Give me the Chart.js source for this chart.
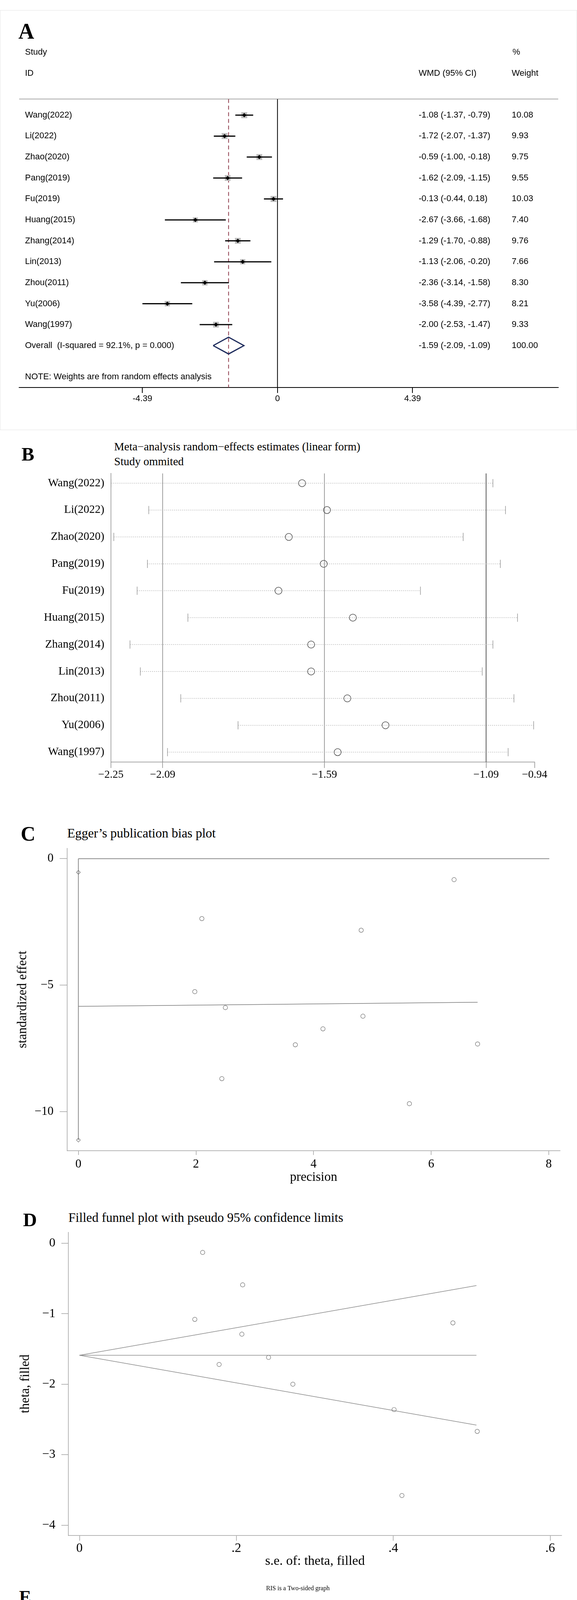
<!DOCTYPE html>
<html>
<head>
<meta charset="utf-8">
<title>Meta-analysis figure</title>
<script src="https://cdn.jsdelivr.net/npm/chart.js@4.4.1/dist/chart.umd.min.js"></script>
<style>
  html, body { margin: 0; padding: 0; background: #fff; }
  body { position: relative; width: 1476px; height: 4777px; overflow: hidden; }
  canvas { position: absolute; left: 0; }
  .txt { position: absolute; line-height: 1; white-space: nowrap; font-family: "Liberation Serif", "Times New Roman", serif; color: #000; }
  .letter { font-weight: bold; }
  #frameA { position: absolute; left: 0; top: 26px; width: 1474px; height: 1073px; border: 1px solid #e4e4e4; }
</style>
</head>
<body>
<div id="frameA"></div>
<div class="txt letter" style="left:47px;top:52px;font-size:56px">A</div>
<div class="txt letter" style="left:55px;top:1138px;font-size:49px">B</div>
<div class="txt" style="left:292px;top:1129px;font-size:29px">Meta−analysis random−effects estimates (linear form)</div>
<div class="txt" style="left:292px;top:1167px;font-size:29px">Study ommited</div>
<div class="txt letter" style="left:53px;top:2109px;font-size:52px">C</div>
<div class="txt" style="left:172px;top:2117px;font-size:33px">Egger’s publication bias plot</div>
<div class="txt letter" style="left:59px;top:3098px;font-size:49px">D</div>
<div class="txt" style="left:175px;top:3101px;font-size:33px">Filled funnel plot with pseudo 95% confidence limits</div>
<div class="txt letter" style="left:49px;top:4066px;font-size:46px">E</div>

<canvas id="forest" width="1476" height="1060" style="top:0px"></canvas>
<canvas id="influence" width="1476" height="920" style="top:1100px"></canvas>
<canvas id="egger" width="1476" height="1060" style="top:2000px"></canvas>
<canvas id="funnel" width="1476" height="980" style="top:3060px"></canvas>
<canvas id="tsa" width="1476" height="737" style="top:4040px"></canvas>

<script>
// ---------- data ----------
// A: forest plot
const studies = ['Wang(2022)', 'Li(2022)', 'Zhao(2020)', 'Pang(2019)', 'Fu(2019)', 'Huang(2015)',
                 'Zhang(2014)', 'Lin(2013)', 'Zhou(2011)', 'Yu(2006)', 'Wang(1997)'];
const wmd     = [-1.08, -1.72, -0.59, -1.62, -0.13, -2.67, -1.29, -1.13, -2.36, -3.58, -2.00];
const wmdLow  = [-1.37, -2.07, -1.00, -2.09, -0.44, -3.66, -1.70, -2.06, -3.14, -4.39, -2.53];
const wmdHigh = [-0.79, -1.37, -0.18, -1.15,  0.18, -1.68, -0.88, -0.20, -1.58, -2.77, -1.47];
const weights = [10.08, 9.93, 9.75, 9.55, 10.03, 7.40, 9.76, 7.66, 8.30, 8.21, 9.33];
const pooled  = [-1.59, -2.09, -1.09];   // estimate, low, high
const pooledWeight = 100.00;
const iSquared = '92.1';
const pHet = '0.000';
const forestTicks = [-4.39, 0, 4.39];

// B: leave-one-out (study omitted)
const omitEst  = [-1.659, -1.582, -1.700, -1.592, -1.732, -1.502, -1.631, -1.631, -1.519, -1.401, -1.549];
const omitLow  = [-2.250, -2.133, -2.241, -2.137, -2.169, -2.012, -2.191, -2.159, -2.034, -1.857, -2.075];
const omitHigh = [-1.069, -1.030, -1.161, -1.046, -1.293, -0.993, -1.069, -1.102, -1.004, -0.943, -1.022];
const omitTicks = [-2.25, -2.09, -1.59, -1.09, -0.94];
const omitRefs = [-2.09, -1.59, -1.09];

// C: Egger plot
const eggerPrecision = [6.39, 2.10, 4.81, 1.98, 2.50, 4.84, 4.16, 3.69, 6.79, 2.44, 5.63];
const eggerEffect    = [-0.83, -2.37, -2.83, -5.26, -5.89, -6.23, -6.73, -7.36, -7.33, -8.70, -9.69];
const eggerFitX = [0, 6.79];
const eggerFitY = [-5.84, -5.68];
const eggerInterceptCI = [-0.54, -11.13];
const eggerZeroEnd = 8.01;
const eggerTicksX = [0, 2, 4, 6, 8];
const eggerTicksY = [0, -5, -10];

// D: filled funnel plot
const funnelSE    = [0.157, 0.208, 0.147, 0.476, 0.207, 0.241, 0.178, 0.272, 0.401, 0.507, 0.411];
const funnelTheta = [-0.13, -0.59, -1.08, -1.13, -1.29, -1.62, -1.72, -2.00, -2.36, -2.67, -3.58];
const funnelLimX  = [0, 0.506];
const funnelUpper = [-1.59, -0.60];
const funnelMid   = [-1.59, -1.59];
const funnelLower = [-1.59, -2.58];
const funnelTicksX = [0, 0.2, 0.4, 0.6];
const funnelTicksY = [0, -1, -2, -3, -4];

// E: trial sequential analysis
const tsaPatients = [0, 62, 92, 154, 222, 449, 483, 611, 688, 771, 833, 928];
const tsaZ        = [0, 7.36, 7.28, 8.00, 7.20, 7.07, 7.66, 5.07, 5.61, 5.71, 6.34, 7.07];
const boundX      = [0, 62, 92, 152];
const boundUpper  = [8.51, 3.36, 2.72, 2.12];
const boundLower  = [-8.52, -3.31, -2.67, -2.08];
const futilX      = [62, 92, 153];
const futilUpper  = [0.25, 1.03, 2.00];
const futilLower  = [-0.22, -0.97, -2.00];
const convZ = 1.96;
const risN = 154;
const risZ = [8.0, -8.0];
const tsaTicksX = [152];
const tsaTicksY = [8, 7, 6, 5, 4, 3, 2, 1, -1, -2, -3, -4, -5, -6, -7, -8];

// ---------- helpers ----------
Chart.defaults.font.family = '"Liberation Serif", "Times New Roman", serif';
Chart.defaults.color = '#000';

const SANS = '"Liberation Sans", Arial, sans-serif';
const fmtMinus = v => (v < 0 ? '\u2212' + Math.abs(v) : String(v));
const fixTicks = vals => scale => { scale.ticks = vals.map(v => ({ value: v })); };
const pts = (xs, ys) => xs.map((x, i) => ({ x: x, y: ys[i] }));

function baseOptions(padding, scales) {
  return {
    responsive: false,
    animation: false,
    devicePixelRatio: 1,
    events: [],
    layout: { padding: padding },
    plugins: { legend: { display: false }, tooltip: { enabled: false } },
    scales: scales
  };
}

// horizontal segments separated by gaps
function segments(lows, highs) {
  const out = [];
  lows.forEach((lo, i) => {
    out.push({ x: lo, y: i }, { x: highs[i], y: i }, { x: NaN, y: NaN });
  });
  return out;
}

// ---------- A: forest plot ----------
const forestY = [-0.77, 13.0];
const overallRow = studies.length;
const noteRow = 12.5;

const forestText = {
  id: 'forestText',
  beforeDatasetsDraw(chart) {
    const { ctx, chartArea: a } = chart;
    ctx.save();
    ctx.strokeStyle = '#a8a8a8';
    ctx.lineWidth = 2;
    ctx.beginPath();
    ctx.moveTo(a.left, a.top);
    ctx.lineTo(a.right, a.top);
    ctx.stroke();
    ctx.restore();
  },
  afterDraw(chart) {
    const { ctx, scales: { y } } = chart;
    const py = v => y.getPixelForValue(v);
    const ci = (e, l, h) => e.toFixed(2) + ' (' + l.toFixed(2) + ', ' + h.toFixed(2) + ')';
    ctx.save();
    ctx.font = '22px ' + SANS;
    ctx.fillStyle = '#000';
    ctx.textBaseline = 'middle';
    ctx.textAlign = 'left';
    ctx.fillText('Study', 64, py(-3));
    ctx.fillText('ID', 64, py(-2));
    ctx.fillText('%', 1311, py(-3));
    ctx.fillText('Weight', 1309, py(-2));
    ctx.fillText('WMD (95% CI)', 1071, py(-2));
    studies.forEach((s, i) => {
      ctx.fillText(s, 64, py(i));
      ctx.fillText(ci(wmd[i], wmdLow[i], wmdHigh[i]), 1071, py(i));
      ctx.fillText(weights[i].toFixed(2), 1309, py(i));
    });
    ctx.fillText('Overall  (I-squared = ' + iSquared + '%, p = ' + pHet + ')', 64, py(overallRow));
    ctx.fillText(ci(pooled[0], pooled[1], pooled[2]), 1071, py(overallRow));
    ctx.fillText(pooledWeight.toFixed(2), 1309, py(overallRow));
    ctx.fillText('NOTE: Weights are from random effects analysis', 64, py(noteRow));
    ctx.restore();
  }
};

new Chart(document.getElementById('forest'), {
  type: 'scatter',
  data: {
    datasets: [
      { // point estimates
        data: pts(wmd, studies.map((s, i) => i)),
        pointStyle: 'rectRot', pointRadius: 5.5,
        backgroundColor: '#000', borderColor: '#000', borderWidth: 0
      },
      { // confidence intervals
        data: segments(wmdLow, wmdHigh),
        showLine: true, spanGaps: false, pointRadius: 0,
        borderColor: '#000', borderWidth: 3
      },
      { // weight boxes
        data: pts(wmd, studies.map((s, i) => i)),
        pointStyle: 'rect',
        pointRadius: c => 10.8 * Math.sqrt(weights[c.dataIndex] / 10.08),
        backgroundColor: '#bdbdbd', borderWidth: 0
      },
      { // overall diamond
        data: [
          { x: pooled[1], y: overallRow }, { x: pooled[0], y: overallRow - 0.4 },
          { x: pooled[2], y: overallRow }, { x: pooled[0], y: overallRow + 0.4 },
          { x: pooled[1], y: overallRow }
        ],
        showLine: true, pointRadius: 0, borderColor: '#1d2b5c', borderWidth: 3,
        borderJoinStyle: 'miter', tension: 0
      },
      { // pooled estimate line
        data: [{ x: pooled[0], y: forestY[0] }, { x: pooled[0], y: forestY[1] }],
        showLine: true, pointRadius: 0, borderColor: '#8e3b4c', borderWidth: 2, borderDash: [10, 7]
      },
      { // no-effect line
        data: [{ x: 0, y: forestY[0] }, { x: 0, y: forestY[1] }],
        showLine: true, pointRadius: 0, borderColor: '#000', borderWidth: 2
      }
    ]
  },
  options: baseOptions({ top: 253.5, left: 49, right: 48, bottom: 0 }, {
    x: {
      type: 'linear', min: -8.397, max: 9.126,
      afterBuildTicks: fixTicks(forestTicks),
      afterFit: s => { s.height = 68; },
      grid: { drawOnChartArea: false, tickLength: 14, color: '#000', lineWidth: 2 },
      border: { color: '#000', width: 2 },
      ticks: { font: { family: SANS, size: 22 }, padding: 2, autoSkip: false, maxRotation: 0,
               callback: v => String(v) }
    },
    y: { type: 'linear', display: false, reverse: true, min: forestY[0], max: forestY[1] }
  }),
  plugins: [forestText]
});

// ---------- B: influence analysis ----------
const influenceText = {
  id: 'influenceText',
  afterDraw(chart) {
    const { ctx, scales: { y } } = chart;
    ctx.save();
    ctx.font = '29px "Liberation Serif", serif';
    ctx.fillStyle = '#000';
    ctx.textBaseline = 'middle';
    ctx.textAlign = 'right';
    studies.forEach((s, i) => ctx.fillText(s, 267, y.getPixelForValue(i)));
    ctx.restore();
  }
};

const influenceY = [-0.36, 10.37];
const capPts = [];
omitLow.forEach((lo, i) => { capPts.push({ x: lo, y: i }, { x: omitHigh[i], y: i }); });

new Chart(document.getElementById('influence'), {
  type: 'scatter',
  data: {
    datasets: [
      { // estimates with study omitted
        data: pts(omitEst, studies.map((s, i) => i)),
        pointStyle: 'circle', pointRadius: 9,
        backgroundColor: 'rgba(0,0,0,0)', borderColor: '#4d4d4d', borderWidth: 1.5
      },
      { // CI end caps
        data: capPts,
        pointStyle: 'line', pointRotation: 90, pointRadius: 10.5,
        borderColor: '#999', borderWidth: 1.5
      },
      { // CI dotted lines
        data: segments(omitLow, omitHigh),
        showLine: true, spanGaps: false, pointRadius: 0,
        borderColor: '#aaa', borderWidth: 1.5, borderDash: [2, 3]
      },
      ...omitRefs.map((v, k) => ({
        data: [{ x: v, y: influenceY[0] }, { x: v, y: influenceY[1] }],
        showLine: true, pointRadius: 0,
        borderColor: k === 2 ? '#555' : '#808080', borderWidth: k === 2 ? 2 : 1.5
      }))
    ]
  },
  options: baseOptions({ top: 112.1, left: 0, right: 108.4, bottom: 0 }, {
    x: {
      type: 'linear', min: -2.25, max: -0.94,
      afterBuildTicks: fixTicks(omitTicks),
      afterFit: s => { s.height = 69; },
      grid: { drawOnChartArea: false, tickLength: 15, color: '#8c8c8c', lineWidth: 1.5 },
      border: { color: '#8c8c8c', width: 1.5 },
      ticks: { font: { size: 28 }, padding: 1, autoSkip: false, maxRotation: 0,
               callback: v => '\u2212' + Math.abs(v).toFixed(2) }
    },
    y: {
      type: 'linear', reverse: true, min: influenceY[0], max: influenceY[1],
      afterFit: s => { s.width = 283.7; },
      grid: { display: false },
      border: { color: '#8c8c8c', width: 1.5 },
      ticks: { display: false }
    }
  }),
  plugins: [influenceText]
});

// ---------- C: Egger's plot ----------
new Chart(document.getElementById('egger'), {
  type: 'scatter',
  data: {
    datasets: [
      {
        data: pts(eggerPrecision, eggerEffect),
        pointStyle: 'circle', pointRadius: 5.5,
        backgroundColor: 'rgba(0,0,0,0)', borderColor: '#6e6e6e', borderWidth: 1.2
      },
      { // intercept confidence interval
        data: [{ x: 0, y: eggerInterceptCI[0] }, { x: 0, y: eggerInterceptCI[1] }],
        pointStyle: 'rectRot', pointRadius: 5,
        backgroundColor: 'rgba(0,0,0,0)', borderColor: '#6e6e6e', borderWidth: 1.2, clip: false
      },
      { // regression line
        data: pts(eggerFitX, eggerFitY),
        showLine: true, pointRadius: 0, borderColor: '#7a7a7a', borderWidth: 1.5
      },
      { // zero reference
        data: [{ x: 0, y: 0 }, { x: eggerZeroEnd, y: 0 }],
        showLine: true, pointRadius: 0, borderColor: '#8a8a8a', borderWidth: 2
      },
      {
        data: [{ x: 0, y: 0 }, { x: 0, y: eggerInterceptCI[1] }],
        showLine: true, pointRadius: 0, borderColor: '#8a8a8a', borderWidth: 2
      }
    ]
  },
  options: baseOptions({ top: 171.7, left: 0, right: 43.3, bottom: 0 }, {
    x: {
      type: 'linear', min: -0.1915, max: 8.193,
      afterBuildTicks: fixTicks(eggerTicksX),
      afterFit: s => { s.height = 114.2; },
      grid: { drawOnChartArea: false, tickLength: 11, color: '#a0a0a0', lineWidth: 1.5 },
      border: { color: '#a0a0a0', width: 1.5 },
      ticks: { font: { size: 31 }, padding: 5.5, autoSkip: false, maxRotation: 0, callback: fmtMinus },
      title: { display: true, text: 'precision', font: { size: 33 }, padding: { top: 0, bottom: 26 } }
    },
    y: {
      type: 'linear', min: -11.55, max: 0.41,
      afterBuildTicks: fixTicks(eggerTicksY),
      afterFit: s => { s.width = 171.7; },
      grid: { drawOnChartArea: false, tickLength: 19, color: '#a0a0a0', lineWidth: 1.5 },
      border: { color: '#a0a0a0', width: 1.5 },
      ticks: { font: { size: 31 }, padding: 15.7, autoSkip: false, callback: fmtMinus },
      title: { display: true, text: 'standardized effect', font: { size: 33 }, padding: { top: 38.9, bottom: 0 } }
    }
  })
});

// ---------- D: filled funnel plot ----------
new Chart(document.getElementById('funnel'), {
  type: 'scatter',
  data: {
    datasets: [
      {
        data: pts(funnelSE, funnelTheta),
        pointStyle: 'circle', pointRadius: 5.5,
        backgroundColor: 'rgba(0,0,0,0)', borderColor: '#6e6e6e', borderWidth: 1.2
      },
      { data: pts(funnelLimX, funnelUpper), showLine: true, pointRadius: 0, borderColor: '#8c8c8c', borderWidth: 1.5 },
      { data: pts(funnelLimX, funnelMid), showLine: true, pointRadius: 0, borderColor: '#8c8c8c', borderWidth: 1.5 },
      { data: pts(funnelLimX, funnelLower), showLine: true, pointRadius: 0, borderColor: '#8c8c8c', borderWidth: 1.5 }
    ]
  },
  options: baseOptions({ top: 94.8, left: 0, right: 39.5, bottom: 0 }, {
    x: {
      type: 'linear', min: -0.0141, max: 0.6145,
      afterBuildTicks: fixTicks(funnelTicksX),
      afterFit: s => { s.height = 109.7; },
      grid: { drawOnChartArea: false, tickLength: 14, color: '#a0a0a0', lineWidth: 1.5 },
      border: { color: '#a0a0a0', width: 1.5 },
      ticks: { font: { size: 33 }, padding: 0, autoSkip: false, maxRotation: 0,
               callback: v => (v === 0 ? '0' : String(v).replace(/^0\./, '.')) },
      title: { display: true, text: 's.e. of: theta, filled', font: { size: 34 }, padding: { top: 0, bottom: 23 } }
    },
    y: {
      type: 'linear', min: -4.144, max: 0.155,
      afterBuildTicks: fixTicks(funnelTicksY),
      afterFit: s => { s.width = 175; },
      grid: { drawOnChartArea: false, tickLength: 18, color: '#a0a0a0', lineWidth: 1.5 },
      border: { color: '#a0a0a0', width: 1.5 },
      ticks: { font: { size: 32 }, padding: 15.3, autoSkip: false, callback: fmtMinus },
      title: { display: true, text: 'theta, filled', font: { size: 33 }, padding: { top: 45.2, bottom: 0 } }
    }
  })
});

// ---------- E: trial sequential analysis ----------
const tsaDecor = {
  id: 'tsaDecor',
  afterDraw(chart) {
    const { ctx, chartArea: a, scales: { x, y } } = chart;
    const y0 = y.getPixelForValue(0);
    ctx.save();
    ctx.strokeStyle = '#000';
    ctx.lineWidth = 1.6;
    ctx.beginPath();
    ctx.moveTo(a.right - 12, y0 - 9); ctx.lineTo(a.right, y0); ctx.lineTo(a.right - 12, y0 + 9);
    ctx.moveTo(a.left - 9, a.top + 10); ctx.lineTo(a.left, a.top); ctx.lineTo(a.left + 9, a.top + 10);
    ctx.stroke();

    ctx.fillStyle = '#000';
    ctx.textBaseline = 'middle';
    ctx.textAlign = 'center';
    ctx.font = '16px "Liberation Serif", serif';
    ctx.fillText('RIS is a Two-sided graph', 762, 27);
    ctx.fillText('Cumulative', 149, 64);
    ctx.fillText('Z-Score', 149, 82);
    ctx.fillText('Number of', 1385, 432);
    ctx.fillText('patients', 1385, 450);
    ctx.fillText('(Linear scaled)', 1385, 468);

    ctx.fillStyle = '#e3262b';
    ctx.fillText('RIS = ' + risN, x.getPixelForValue(risN) + 2, 102);

    const last = tsaPatients.length - 1;
    ctx.fillStyle = '#2d4aa6';
    ctx.textAlign = 'left';
    ctx.font = '16px ' + SANS;
    ctx.fillText('Z-curve', x.getPixelForValue(tsaPatients[last]) + 7, y.getPixelForValue(tsaZ[last]));

    ctx.fillStyle = '#000';
    ctx.textAlign = 'center';
    ctx.font = '15px "Liberation Serif", serif';
    const vtext = (t, px, pyv) => {
      ctx.save(); ctx.translate(px, pyv); ctx.rotate(-Math.PI / 2); ctx.fillText(t, 0, 0); ctx.restore();
    };
    vtext('Favours', 48, 262);
    vtext('ANP+CT', 66, 262);
    vtext('Favours', 48, 557);
    vtext('CT', 66, 557);
    ctx.restore();
  }
};

const diamond = { pointStyle: 'rectRot', pointRadius: 3.5, pointBackgroundColor: '#000', pointBorderColor: '#000', pointBorderWidth: 0 };
const lastN = tsaPatients[tsaPatients.length - 1];

new Chart(document.getElementById('tsa'), {
  type: 'scatter',
  data: {
    datasets: [
      { // cumulative Z-curve
        data: pts(tsaPatients, tsaZ),
        showLine: true, borderColor: '#2d4aa6', borderWidth: 2,
        pointStyle: 'rect', pointRadius: 4.2, pointBackgroundColor: '#000', pointBorderColor: '#000', pointBorderWidth: 0,
        clip: false
      },
      Object.assign({ // RIS line
        data: [{ x: risN, y: risZ[0] }, { x: risN, y: risZ[1] }],
        showLine: true, borderColor: '#e3262b', borderWidth: 1.8, clip: false
      }, diamond, { pointRadius: c => (c.dataIndex === 1 ? 3.5 : 0) }),
      Object.assign({ data: pts(boundX, boundUpper), showLine: true, borderColor: '#e3262b', borderWidth: 1.8, clip: false }, diamond),
      Object.assign({ data: pts(boundX, boundLower), showLine: true, borderColor: '#e3262b', borderWidth: 1.8, clip: false }, diamond),
      Object.assign({ data: pts(futilX, futilUpper), showLine: true, borderColor: '#e3262b', borderWidth: 1.8, clip: false }, diamond),
      Object.assign({ data: pts(futilX, futilLower), showLine: true, borderColor: '#e3262b', borderWidth: 1.8, clip: false }, diamond),
      Object.assign({ data: [{ x: 0, y: convZ }, { x: lastN, y: convZ }], showLine: true, borderColor: '#b8262a', borderWidth: 2.5, clip: false }, diamond),
      Object.assign({ data: [{ x: 0, y: -convZ }, { x: lastN, y: -convZ }], showLine: true, borderColor: '#b8262a', borderWidth: 2.5, clip: false }, diamond)
    ]
  },
  options: baseOptions({ top: 94.8, left: 0, right: 81, bottom: 6.6 }, {
    x: {
      type: 'linear', min: 0, max: 1037, position: { y: 0 },
      afterBuildTicks: fixTicks(tsaTicksX),
      afterFit: s => { s.height = 0; },
      grid: { drawOnChartArea: false, tickLength: 9, color: '#000', lineWidth: 1.5 },
      border: { color: '#000', width: 2 },
      ticks: { font: { size: 16 }, padding: 3, autoSkip: false, maxRotation: 0 }
    },
    y: {
      type: 'linear', min: -8.7, max: 8.52, position: 'left',
      afterBuildTicks: fixTicks(tsaTicksY),
      afterFit: s => { s.width = 149.3; },
      grid: { drawOnChartArea: false, tickLength: 9, color: '#000', lineWidth: 1.5 },
      border: { color: '#000', width: 2 },
      ticks: { font: { size: 15 }, padding: 4.3, autoSkip: false }
    }
  }),
  plugins: [tsaDecor]
});
</script>
</body>
</html>
